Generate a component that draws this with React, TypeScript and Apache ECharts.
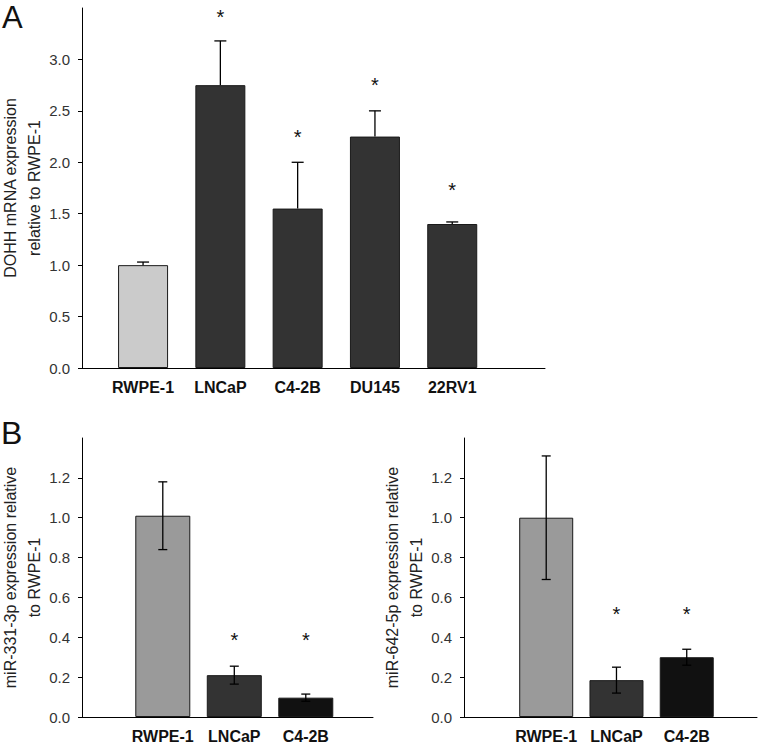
import React, { useEffect, useRef } from "react";
import * as echarts from "echarts";

// ---------- Data ----------
const catsA = ["RWPE-1", "LNCaP", "C4-2B", "DU145", "22RV1"];
const meanA = [1.0, 2.75, 1.55, 2.25, 1.4];
const errA = [0.03, 0.43, 0.45, 0.25, 0.02];
const starA = [null, 3.46, 2.29, 2.8, 1.77];
const colorsA = ["#cbcbcb", "#333333", "#333333", "#333333", "#333333"];
const ticksA = [0, 0.5, 1.0, 1.5, 2.0, 2.5, 3.0];

const catsB = ["RWPE-1", "LNCaP", "C4-2B"];
const mean331 = [1.01, 0.21, 0.097];
const err331 = [0.17, 0.045, 0.018];
const star331 = [null, 0.41, 0.41];
const mean642 = [1.0, 0.185, 0.3];
const err642 = [0.31, 0.065, 0.04];
const star642 = [null, 0.54, 0.54];
const colorsB = ["#9a9a9a", "#333333", "#111111"];
const ticksB = [0, 0.2, 0.4, 0.6, 0.8, 1.0, 1.2];

const titleA = "DOHH mRNA expression\nrelative to RWPE-1";
const title331 = "miR-331-3p expression relative\nto RWPE-1";
const title642 = "miR-642-5p expression relative\nto RWPE-1";

const FONT = "'Liberation Sans', Arial, Helvetica, sans-serif";

function errRender(twoSided: boolean, cap: number) {
  return (params: any, api: any) => {
    const x = api.value(0);
    const m = api.value(1);
    const e = api.value(2);
    const top = api.coord([x, m + e]);
    const bot = api.coord([x, twoSided ? m - e : m]);
    const st = { stroke: "#000", lineWidth: 1.3 };
    const children: any[] = [
      { type: "line", shape: { x1: top[0], y1: top[1], x2: bot[0], y2: bot[1] }, style: st },
      { type: "line", shape: { x1: top[0] - cap, y1: top[1], x2: top[0] + cap, y2: top[1] }, style: st },
    ];
    if (twoSided) {
      children.push({ type: "line", shape: { x1: bot[0] - cap, y1: bot[1], x2: bot[0] + cap, y2: bot[1] }, style: st });
    }
    return { type: "group", children };
  };
}

function starRender(params: any, api: any) {
  const p = api.coord([api.value(0), api.value(1)]);
  return {
    type: "text",
    x: p[0],
    y: p[1] + 4.5,
    style: { text: "*", fontSize: 20, fontFamily: FONT, fill: "#111", align: "center", verticalAlign: "middle" },
  };
}

function makeX(gridIndex: number, cats: string[], min: number, max: number) {
  const vals = cats.map((_, i) => i);
  return {
    type: "value",
    gridIndex,
    min,
    max,
    splitLine: { show: false },
    axisLine: { show: true, onZero: false, lineStyle: { color: "#000", width: 1 } },
    axisTick: { show: false },
    axisLabel: {
      customValues: vals,
      formatter: (v: number) => cats[Math.round(v)] ?? "",
      fontFamily: FONT,
      fontWeight: "bold",
      fontSize: 16,
      color: "#111",
      margin: 11,
    },
  };
}

function makeY(gridIndex: number, max: number, ticks: number[], name: string) {
  return {
    type: "value",
    gridIndex,
    min: 0,
    max,
    name,
    nameLocation: "middle",
    nameRotate: 90,
    nameGap: 36,
    nameMoveOverlap: false,
    nameTextStyle: { fontFamily: FONT, fontSize: 16, color: "#222", lineHeight: 24 },
    splitLine: { show: false },
    axisLine: { show: true, onZero: false, lineStyle: { color: "#000", width: 1 } },
    axisTick: { show: true, customValues: ticks, length: 4, lineStyle: { color: "#000" } },
    axisLabel: {
      customValues: ticks,
      formatter: (v: number) => v.toFixed(1),
      fontFamily: FONT,
      fontSize: 15,
      color: "#333",
      margin: 12,
    },
  };
}

function barSeries(idx: number, means: number[], colors: string[], width: number) {
  return {
    type: "bar",
    xAxisIndex: idx,
    yAxisIndex: idx,
    barWidth: width,
    data: means.map((m, i) => ({
      value: [i, m],
      itemStyle: { color: colors[i], borderColor: "#1a1a1a", borderWidth: 1 },
    })),
    z: 2,
  };
}

function errSeries(idx: number, means: number[], errs: number[], twoSided: boolean, cap: number) {
  return {
    type: "custom",
    xAxisIndex: idx,
    yAxisIndex: idx,
    renderItem: errRender(twoSided, cap),
    encode: { x: 0, y: 1 },
    data: means.map((m, i) => [i, m, errs[i]]),
    z: 3,
  };
}

function starSeries(idx: number, stars: (number | null)[]) {
  return {
    type: "custom",
    xAxisIndex: idx,
    yAxisIndex: idx,
    renderItem: starRender,
    encode: { x: 0, y: 1 },
    data: stars.map((s, i) => (s == null ? null : [i, s])).filter((d) => d != null),
    z: 4,
  };
}

export default function App() {
  const ref = useRef<HTMLDivElement>(null);
  useEffect(() => {
    if (!ref.current) return;
    const chart = echarts.init(ref.current, undefined, { renderer: "svg" });
    chart.setOption({
      animation: false,
      backgroundColor: "#fff",
      textStyle: { fontFamily: FONT },
      grid: [
        { left: 82, top: 8, width: 463, height: 360, outerBoundsMode: "none" },
        { left: 82, top: 438, width: 291, height: 279, outerBoundsMode: "none" },
        { left: 464, top: 438, width: 293, height: 279, outerBoundsMode: "none" },
      ],
      xAxis: [
        makeX(0, catsA, -0.79, 5.2),
        makeX(1, catsB, -1.13, 2.94),
        makeX(2, catsB, -1.17, 3.0),
      ],
      yAxis: [
        makeY(0, 3.5, ticksA, titleA),
        makeY(1, 1.4, ticksB, title331),
        makeY(2, 1.4, ticksB, title642),
      ],
      series: [
        barSeries(0, meanA, colorsA, 50),
        errSeries(0, meanA, errA, false, 6),
        starSeries(0, starA),
        barSeries(1, mean331, colorsB, 55),
        errSeries(1, mean331, err331, true, 4.5),
        starSeries(1, star331),
        barSeries(2, mean642, colorsB, 54),
        errSeries(2, mean642, err642, true, 4.5),
        starSeries(2, star642),
      ],
      graphic: [
        { type: "text", left: 2, top: 2, style: { text: "A", fontSize: 31, fontFamily: FONT, fill: "#111" } },
        { type: "text", left: 1, top: 417, style: { text: "B", fontSize: 32, fontFamily: FONT, fill: "#111" } },
      ],
    });
    return () => chart.dispose();
  }, []);
  return (
    <div
      ref={ref}
      style={{ position: "fixed", left: 0, top: 0, width: 758, height: 745, background: "#fff" }}
    />
  );
}
